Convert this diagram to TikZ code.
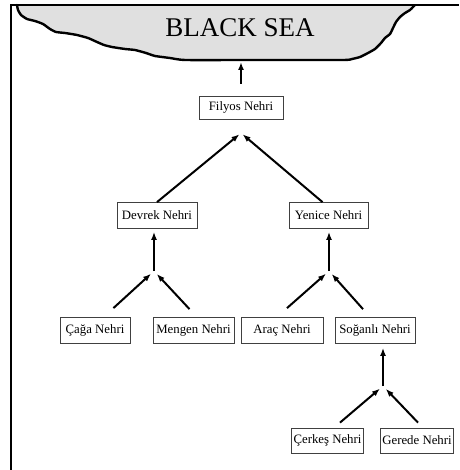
\documentclass[tikz,border=0pt]{standalone}
\usepackage{fontspec}
\setmainfont{Liberation Serif}
\usetikzlibrary{arrows.meta}

\begin{document}
\begin{tikzpicture}[x=1pt, y=-1pt]
    % Define styles
    \tikzset{
        river/.style={draw=black!75, line width=0.8pt, fill=white, inner sep=2pt,
            minimum height=26pt, font=\fontsize{12.8}{15}\selectfont},
        flow/.style={-{Latex[length=8pt, width=6pt]}, line width=2pt},
        coastline/.style={draw=black, line width=2.4pt, line join=round, line cap=round},
        frameline/.style={line width=1.3pt}
    }
    \useasboundingbox (0,0) rectangle (459,470);

    % Coast points of the sea
    \def\coast{(17,5) (18,10) (21,15) (27,19) (35,21) (43,24) (50,29) (56,32)
        (65,33) (77,35) (88,38) (97,42) (104,45) (112,47) (125,49) (135,50)
        (146,53) (155,56) (170,58) (185,60) (250,60) (343,60) (352,59) (360,57)
        (368,53) (375,49) (381,43) (385,38) (390,34) (393,28) (396,22) (400,17)
        (405,13) (410,10) (413,7) (415,5)}

    % Draw the sea
    \fill[black!12] plot[smooth, tension=0.3] coordinates {\coast} -- cycle;
    \draw[coastline] plot[smooth, tension=0.3] coordinates {\coast};
    \node[font=\fontsize{27}{30}\selectfont] (blacksea) at (240,28) {BLACK SEA};

    % Frame
    \draw[frameline] (11,470) -- (11,5) -- (459,5);

    % Rivers
    \node[river, minimum width=84pt, minimum height=23pt] (filyos) at (241,107.5) {Filyos Nehri};
    \node[river, minimum width=80pt] (devrek) at (157,215.5) {Devrek Nehri};
    \node[river, minimum width=79pt] (yenice) at (328.5,215.5) {Yenice Nehri};
    \node[river, minimum width=70pt] (caga) at (95,330.5) {Çağa Nehri};
    \node[river, minimum width=81pt] (mengen) at (193.5,330.5) {Mengen Nehri};
    \node[river, minimum width=82pt] (arac) at (282,330.5) {Araç Nehri};
    \node[river, minimum width=80pt] (soganli) at (375,330.5) {Soğanlı Nehri};
    \node[river, minimum width=71pt, minimum height=25pt] (cerkes) at (327.5,440.5) {Çerkeş Nehri};
    \node[river, minimum width=72pt, minimum height=25pt] (gerede) at (417,440.5) {Gerede Nehri};

    % Junctions
    \coordinate (mouth) at (241,62);
    \coordinate (jfilyos) at (241,133);
    \coordinate (jdevrek) at (154,271);
    \coordinate (jyenice) at (329,271);
    \coordinate (jsoganli) at (383,386);

    % Flows
    \draw[flow] ([yshift=12pt]filyos.north) -- (mouth);

    \draw[flow, shorten >=2pt] (devrek.north) -- (jfilyos);
    \draw[flow, shorten >=2pt] ([xshift=-6pt]yenice.north) -- (jfilyos);

    \draw[flow, shorten >=3pt] (jdevrek) -- (devrek.south -| jdevrek);
    \draw[flow, shorten >=4pt] ([xshift=-17pt, yshift=9pt]caga.north east) -- (jdevrek);
    \draw[flow, shorten >=4pt] ([xshift=-4pt, yshift=8pt]mengen.north) -- (jdevrek);

    \draw[flow, shorten >=3pt] (jyenice) -- (yenice.south -| jyenice);
    \draw[flow, shorten >=4pt] ([xshift=5pt, yshift=9pt]arac.north) -- (jyenice);
    \draw[flow, shorten >=4pt] ([xshift=-12pt, yshift=8pt]soganli.north) -- (jyenice);

    \draw[flow, shorten >=4pt] (jsoganli) -- (soganli.south -| jsoganli);
    \draw[flow, shorten >=4pt] ([xshift=12.5pt, yshift=5pt]cerkes.north) -- (jsoganli);
    \draw[flow, shorten >=4pt] ([xshift=1pt, yshift=5pt]gerede.north) -- (jsoganli);

\end{tikzpicture}
\end{document}
